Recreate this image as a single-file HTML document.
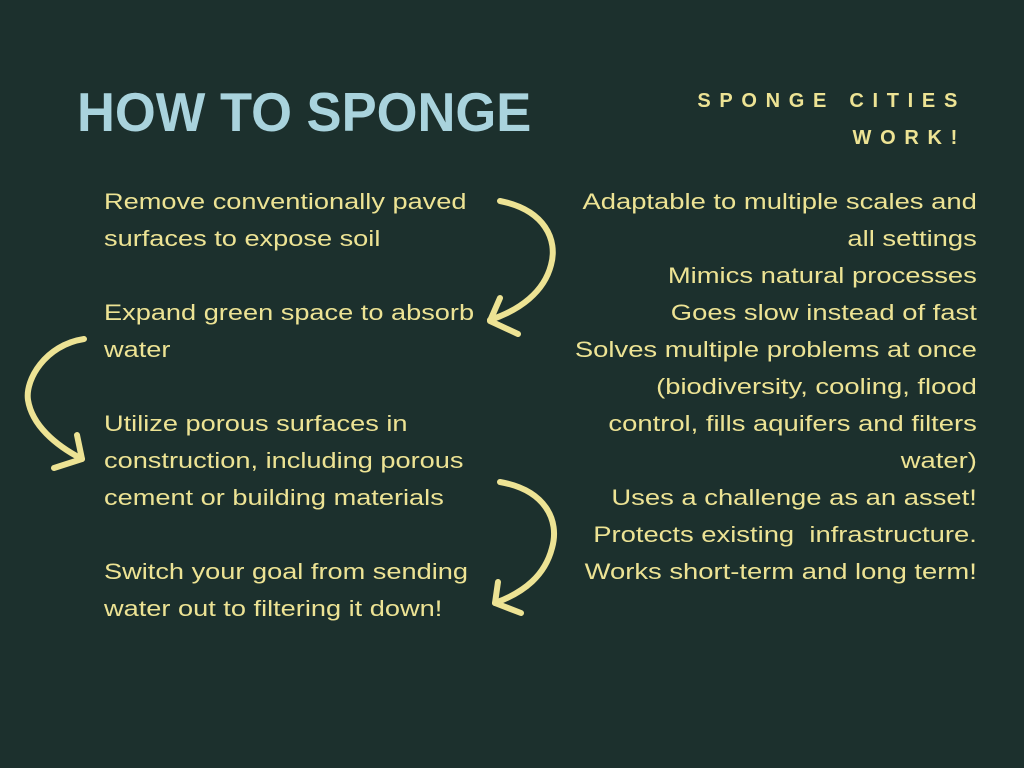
<!DOCTYPE html>
<html><head><style>
html,body{margin:0;padding:0}
body{width:1024px;height:768px;background:#1c302d;position:relative;overflow:hidden;font-family:"Liberation Sans",sans-serif;color:#ede394}
.t{position:absolute;left:77px;top:80px;font-size:55px;font-weight:bold;color:#a9d3dd;white-space:nowrap;transform:scaleX(0.955);transform-origin:left top}
.s{position:absolute;right:58px;top:83px;font-size:20px;font-weight:bold;letter-spacing:8.7px;text-align:right;line-height:37px;white-space:nowrap}
.l{position:absolute;left:104px;font-size:22px;line-height:37px;white-space:nowrap;transform:scaleX(1.235);transform-origin:left top}
.r{position:absolute;right:47px;top:183px;font-size:22px;line-height:37px;text-align:right;white-space:nowrap;transform:scaleX(1.245);transform-origin:right top}
</style></head><body>
<div class="t">HOW TO SPONGE</div>
<div class="s">SPONGE CITIES<br>WORK!</div>
<div class="l" style="top:183px">Remove conventionally paved<br>surfaces to expose soil</div>
<div class="l" style="top:294px">Expand green space to absorb<br>water</div>
<div class="l" style="top:405px">Utilize porous surfaces in<br>construction, including porous<br>cement or building materials</div>
<div class="l" style="top:553px">Switch your goal from sending<br>water out to filtering it down!</div>
<div class="r">Adaptable to multiple scales and<br>all settings<br>Mimics natural processes<br>Goes slow instead of fast<br>Solves multiple problems at once<br>(biodiversity, cooling, flood<br>control, fills aquifers and filters<br>water)<br>Uses a challenge as an asset!<br>Protects existing&nbsp; infrastructure.<br>Works short-term and long term!</div>
<svg width="1024" height="768" style="position:absolute;left:0;top:0" fill="none" stroke="#ede394" stroke-width="6" stroke-linecap="round" stroke-linejoin="round">
<path d="M500 201 C545 210 558 240 551 265 C544 292 520 310 490 320"/>
<path d="M500 298 L490 321 L518 334"/>
<path d="M84 339 C45 345 25 380 28 400 C32 425 55 445 82 459"/>
<path d="M77 435 L82 459 L54 468"/>
<path d="M500 482 C545 490 560 520 552 548 C545 575 525 592 495 603"/>
<path d="M498 582 L495 603 L521 613"/>
</svg>
</body></html>
